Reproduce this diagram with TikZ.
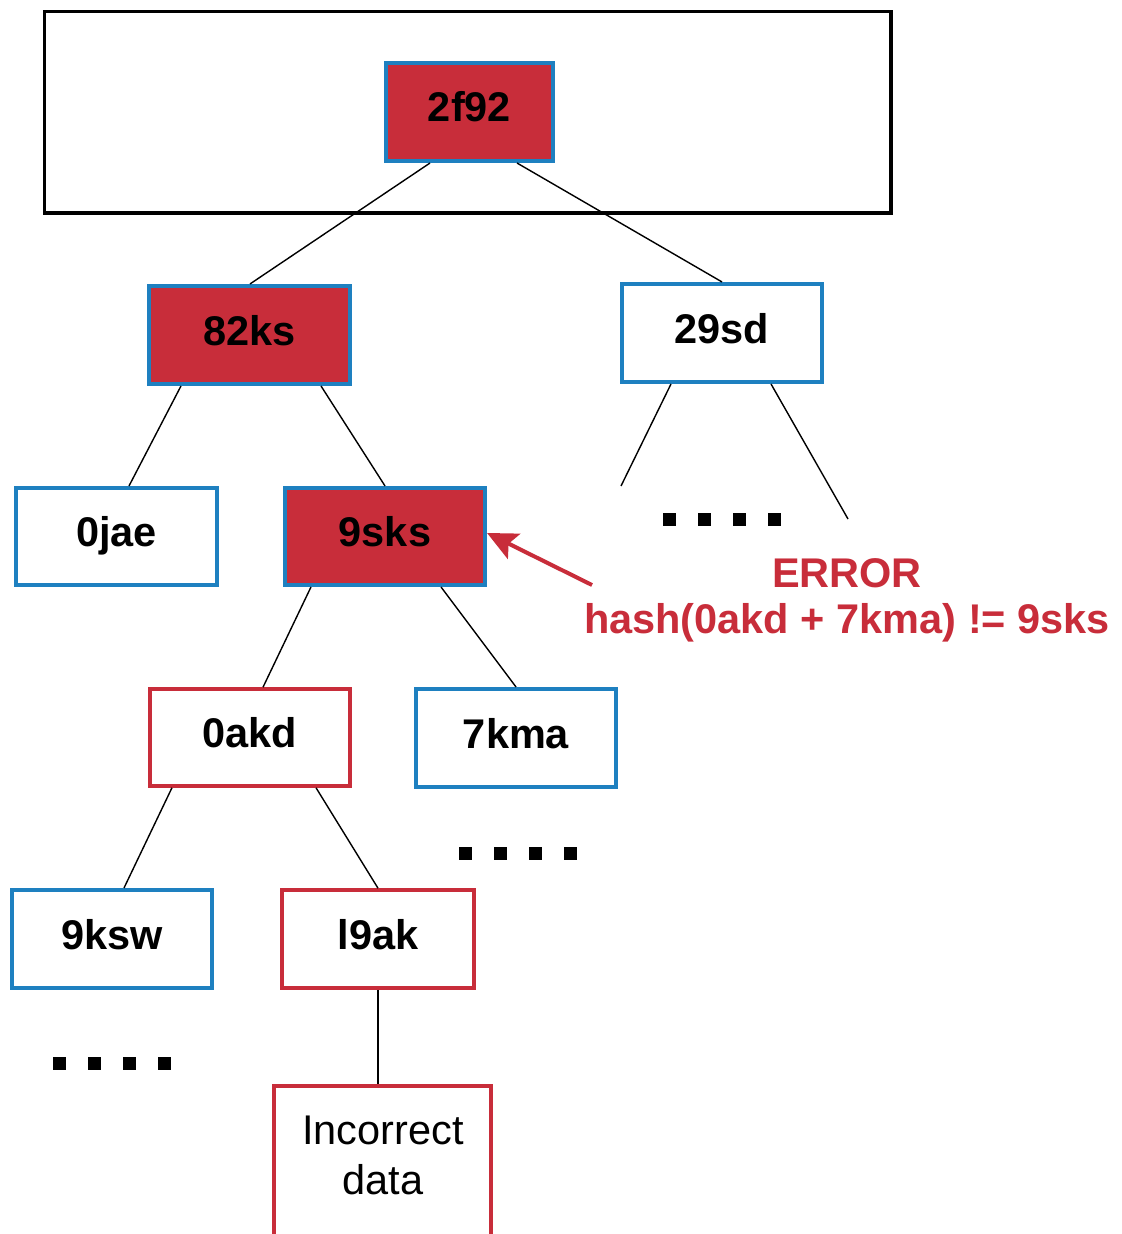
\documentclass[tikz,border=0pt]{standalone}
\usepackage{fontspec}
\setmainfont{Liberation Sans}
\usetikzlibrary{arrows.meta}
\definecolor{mred}{RGB}{200,45,58}
\definecolor{mblue}{RGB}{30,128,192}
\begin{document}
\begin{tikzpicture}[x=0.01cm,y=-0.01cm,
  box/.style={rectangle, minimum width=2.0cm, minimum height=0.98cm, inner sep=0pt,
    text height=0.3cm, text depth=0.1cm,
    font=\fontsize{11.8}{14.2}\selectfont\bfseries},
  bluebox/.style={box, draw=mblue, line width=1.14pt, fill=white},
  hotbox/.style={box, draw=mblue, line width=1.14pt, fill=mred},
  redbox/.style={box, draw=mred, line width=1pt, fill=white},
  link/.style={line width=0.4pt, black},
  dot/.style={fill=black}]
\useasboundingbox (0,0) rectangle (1121,1234);
\draw[line width=1pt] (44.5,11.5) rectangle (891,213);
% nodes
\node[hotbox, minimum width=1.67cm] (n2f92) at (469.5,112) {2f92};
\node[hotbox, minimum width=2.01cm] (n82ks) at (249.5,335) {82ks};
\node[bluebox] (n29sd) at (722,333) {29sd};
\node[bluebox, minimum width=2.01cm, minimum height=0.97cm] (n0jae) at (116.5,536.5) {0jae};
\node[hotbox, minimum height=0.97cm] (n9sks) at (385,536.5) {9sks};
\node[redbox, minimum height=0.97cm] (n0akd) at (250,737.5) {0akd};
\node[bluebox] (n7kma) at (516,738) {7kma};
\node[bluebox] (n9ksw) at (112,939) {9ksw};
\node[redbox, minimum width=1.92cm] (nl9ak) at (378,939) {l9ak};
\node[redbox, minimum width=2.17cm, minimum height=3cm, anchor=north, text height=, text depth=] (ninc) at (382.5,1084) {};
\node[align=center, inner sep=0pt, font=\fontsize{11.8}{14.2}\selectfont] (inctxt) at (383,1155) {Incorrect\\data};
\coordinate (e1) at (621,486);
\coordinate (e2) at (848,519);
% connectors
\draw[link] ([xshift=-0.395cm]n2f92.south) -- ([xshift=0.005cm]n82ks.north);
\draw[link] ([xshift=0.475cm]n2f92.south) -- (n29sd.north);
\draw[link] ([xshift=-0.685cm]n82ks.south) -- ([xshift=0.125cm]n0jae.north);
\draw[link] ([xshift=0.715cm]n82ks.south) -- (n9sks.north);
\draw[link] ([xshift=-0.51cm]n29sd.south) -- (e1);
\draw[link] ([xshift=0.49cm]n29sd.south) -- (e2);
\draw[link] ([xshift=-0.74cm]n9sks.south) -- ([xshift=0.13cm]n0akd.north);
\draw[link] ([xshift=0.56cm]n9sks.south) -- (n7kma.north);
\draw[link] ([xshift=-0.78cm]n0akd.south) -- ([xshift=0.12cm]n9ksw.north);
\draw[link] ([xshift=0.66cm]n0akd.south) -- (nl9ak.north);
\draw[link] (nl9ak.south) -- (nl9ak.south |- ninc.north);
% dots
\foreach \x in {669.5,704.5,739.5,774.5} \fill[dot] (\x-6.5,513) rectangle (\x+6.5,526);
\foreach \x in {465.5,500.5,535.5,570.5} \fill[dot] (\x-6.5,847) rectangle (\x+6.5,860);
\foreach \x in {59.5,94.5,129.5,164.5} \fill[dot] (\x-6.5,1057) rectangle (\x+6.5,1070);
% error
\node[text=mred, font=\fontsize{11.8}{14.2}\selectfont\bfseries, inner sep=0pt] (err) at (847,573) {ERROR};
\node[text=mred, font=\fontsize{11.8}{14.2}\selectfont\bfseries, inner sep=0pt] (hash) at (847,623) {hash(0akd + 7kma) != 9sks};
\coordinate (astart) at (592,585);
\draw[mred, line width=1.14pt, -{Stealth[length=0.3cm, width=0.28cm, inset=0.06cm]}] (astart) -- ([yshift=0.035cm]n9sks.east);
\end{tikzpicture}
\end{document}
